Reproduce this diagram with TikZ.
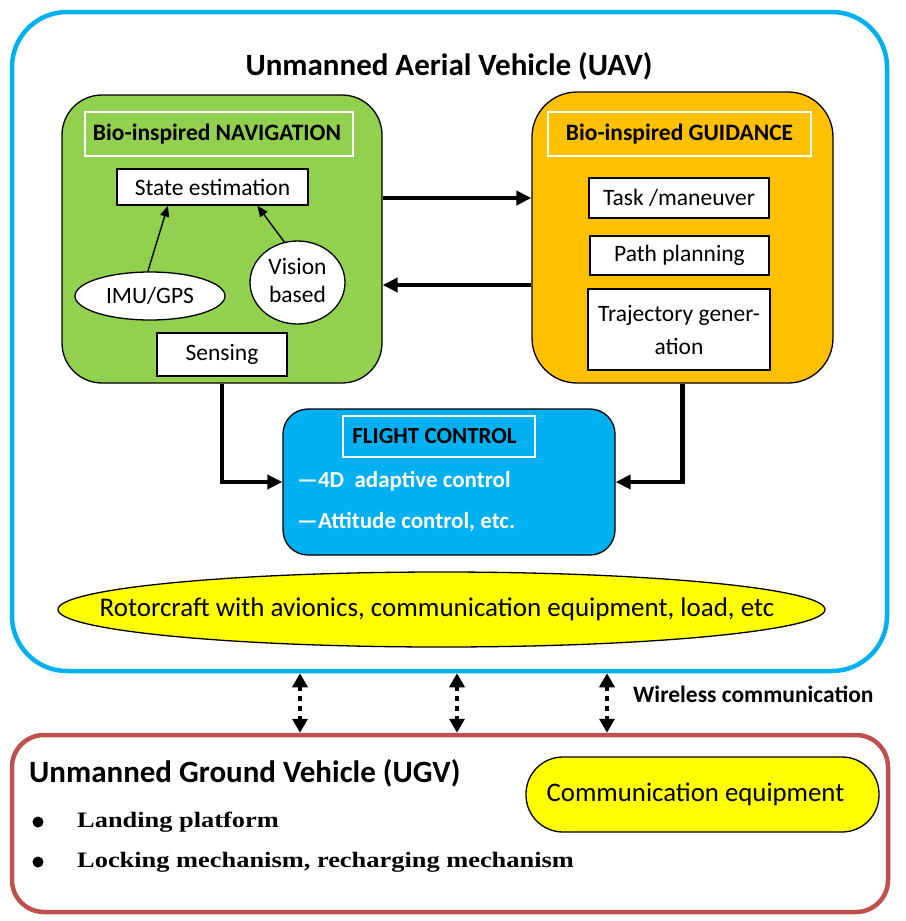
\documentclass[tikz,border=0pt]{standalone}
\usepackage{fontspec}
\setmainfont{Carlito}
\newfontfamily\timesfont[FakeStretch=1.2]{Liberation Serif}
\usetikzlibrary{arrows.meta,shapes.geometric,calc}
\definecolor{uavblue}{HTML}{00B0F0}
\definecolor{navgreen}{HTML}{92D050}
\definecolor{gdorange}{HTML}{FFC000}
\definecolor{ylw}{HTML}{FFFF00}
\definecolor{ugvred}{HTML}{C0504D}
\newcommand\fsz[2]{\fontsize{#1}{#2}\selectfont}
\begin{document}
\begin{tikzpicture}[x=1pt,y=-1pt,
  bigbox/.style={draw=black, line width=1.3pt, inner sep=0pt},
  inbox/.style={draw=black, fill=white, line width=1.3pt, inner sep=0pt, align=center, font=\fsz{23.5}{29}},
  frametitle/.style={draw=white, line width=1.2pt, inner sep=0pt, font=\fsz{23.5}{27}\bfseries},
  bigarrow/.style={line width=4.5pt, -{Triangle[length=15pt,width=14pt]}},
  thinarrow/.style={line width=1.4pt, -{Triangle[length=11pt,width=9pt]}},
  wireless/.style={line width=4.5pt, dash pattern=on 5pt off 5pt, {Triangle[length=14pt,width=15pt]}-{Triangle[length=14pt,width=15pt]}}
]
\useasboundingbox (0,0) rectangle (905,921);
% outer boxes
\node[draw=uavblue, line width=4.5pt, rounded corners=55pt, minimum width=875pt, minimum height=659pt, inner sep=0pt] (uav) at (449.5,341.5) {};
\node[draw=ugvred, line width=4.5pt, rounded corners=32pt, minimum width=876pt, minimum height=177pt, inner sep=0pt] (ugv) at (450,823.5) {};
\node[font=\fsz{31}{36}\bfseries] (uavt) at (449,66) {Unmanned Aerial Vehicle (UAV)};
% navigation
\node[bigbox, fill=navgreen, rounded corners=40pt, minimum width=320pt, minimum height=288pt] (nav) at (222,239) {};
\node[frametitle, minimum width=268pt, minimum height=44pt] (navt) at (219,134) {\hspace*{-4pt}Bio-inspired NAVIGATION};
\node[inbox, minimum width=191pt, minimum height=36pt] (state) at (212.5,187) {State estimation};
\node[inbox, ellipse, minimum width=150pt, minimum height=48pt] (imu) at (150,296) {\makebox[0pt]{IMU/GPS}};
\node[inbox, ellipse, minimum width=95pt, minimum height=83pt, font=\fsz{23.5}{28}] (vision) at (297.5,282.5) {\makebox[0pt]{\begin{tabular}{@{}c@{}}Vision\\based\end{tabular}}};
\node[inbox, minimum width=130pt, minimum height=43pt] (sensing) at (222,354.5) {Sensing};
\draw[thinarrow] (imu.95) -- ($(state.south west)!0.268!(state.south east)$);
\draw[thinarrow] (vision.108) -- ($(state.south west)!0.733!(state.south east)$);
% guidance
\node[bigbox, fill=gdorange, rounded corners=45pt, minimum width=301pt, minimum height=291pt] (gd) at (682.5,237.5) {};
\node[frametitle, minimum width=263pt, minimum height=44pt] (gdt) at (679.5,134) {Bio-inspired GUIDANCE};
\node[inbox, minimum width=180pt, minimum height=40pt] (task) at (679,198) {Task /maneuver};
\node[inbox, minimum width=179pt, minimum height=39pt] (path) at (679.5,255.5) {Path planning};
\node[inbox, minimum width=182pt, minimum height=81pt, font=\fsz{23.5}{33}] (traj) at (679,329.5) {Trajectory gener-\\ation};
% flight control
\node[bigbox, fill=uavblue, rounded corners=25pt, minimum width=332pt, minimum height=146pt] (fc) at (449,482) {};
\node[frametitle, minimum width=192pt, minimum height=41pt, font=\fsz{23}{27}\bfseries] (fct) at (439,436.5) {\hspace*{-9pt}FLIGHT CONTROL};
\node[anchor=west, inner sep=0pt, text=white, font=\fsz{23}{27}\bfseries] (fc1) at (297,481) {—4D\ \ adaptive control};
\node[anchor=west, inner sep=0pt, text=white, font=\fsz{23}{27}\bfseries] (fc2) at (297,522) {—Attitude control, etc.};
% connectors
\coordinate (yr) at (0,198);
\coordinate (yl) at (0,285);
\draw[bigarrow] (nav.east |- yr) -- (gd.west |- yr);
\draw[bigarrow] (gd.west |- yl) -- (nav.east |- yl);
\draw[bigarrow] (nav.south) |- (fc.west);
\draw[bigarrow] (gd.south) |- (fc.east);
% rotorcraft
\node[draw=black, line width=1.3pt, fill=ylw, ellipse, minimum width=767pt, minimum height=75pt, inner sep=0pt, font=\fsz{27}{31}] (rotor) at (441.5,609.5) {\makebox[0pt]{\hspace*{-9pt}Rotorcraft with avionics, communication equipment, load, etc}};
% wireless
\coordinate (w1) at (300,700);
\coordinate (w2) at (457,700);
\coordinate (w3) at (607,700);
\draw[wireless] (w1 |- uav.south) -- (w1 |- ugv.north);
\draw[wireless] (w2 |- uav.south) -- (w2 |- ugv.north);
\draw[wireless] (w3 |- uav.south) -- (w3 |- ugv.north);
\node[anchor=west, inner sep=0pt, font=\fsz{23.5}{27}\bfseries] (wl) at (633,694) {Wireless communication};
% UGV
\node[anchor=west, inner sep=0pt, font=\fsz{31}{36}\bfseries] (ugvt) at (29,773) {Unmanned Ground Vehicle (UGV)};
\node[draw=black, line width=1.3pt, fill=ylw, rounded corners=37pt, minimum width=353pt, minimum height=75pt, inner sep=0pt, font=\fsz{26.8}{31}] (comm) at (702.5,794.5) {\makebox[0pt]{\hspace*{-14pt}Communication equipment}};
\node[circle, fill=black, inner sep=0pt, minimum size=11pt] (b1) at (38,822) {};
\node[circle, fill=black, inner sep=0pt, minimum size=11pt] (b2) at (38,862) {};
\node[anchor=west, inner sep=0pt, font=\timesfont\fsz{22}{26}\bfseries] (l1) at (77,822) {Landing platform};
\node[anchor=west, inner sep=0pt, font=\timesfont\fsz{22}{26}\bfseries] (l2) at (77,862) {Locking mechanism, recharging mechanism};
\end{tikzpicture}
\end{document}
